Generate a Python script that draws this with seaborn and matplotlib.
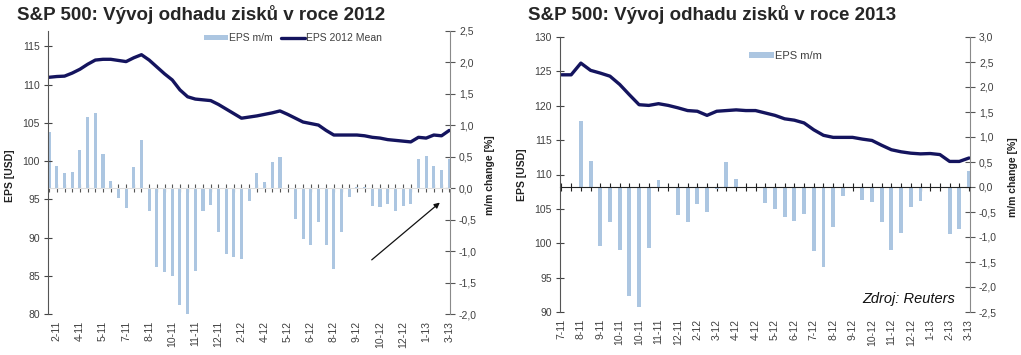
import matplotlib
matplotlib.use('Agg')
import matplotlib.pyplot as plt
from matplotlib.ticker import FuncFormatter
import numpy as np
import seaborn as sns

# ==========================================
# Data
# ==========================================
# 2012 panel: biweekly points, labels every third point
ticklabels_2012 = ['2-11', '4-11', '5-11', '7-11', '8-11', '10-11', '11-11', '12-11', '2-12',
                   '4-12', '5-12', '6-12', '8-12', '9-12', '10-12', '12-12', '1-13', '3-13']
eps_mm_2012 = [0.89, 0.35, 0.24, 0.26, 0.61, 1.13, 1.20, 0.55, 0.12, -0.16,
               -0.32, 0.33, 0.76, -0.36, -1.26, -1.33, -1.40, -1.85, -2.00, -1.31,
               -0.37, -0.27, -0.70, -1.04, -1.10, -1.13, -0.21, 0.25, 0.10, 0.41,
               0.50, 0.00, -0.49, -0.81, -0.91, -0.54, -0.91, -1.29, -0.69, -0.14,
               0.02, 0.02, -0.28, -0.30, -0.25, -0.36, -0.29, -0.25, 0.46, 0.52,
               0.36, 0.29, 0.46]
eps_mean_2012 = [110.95, 111.05, 111.1, 111.5, 112.0, 112.65, 113.2, 113.3, 113.3, 113.15,
                 113.0, 113.5, 113.9, 113.2, 112.3, 111.4, 110.6, 109.3, 108.4, 108.1,
                 108.0, 107.9, 107.4, 106.8, 106.2, 105.6, 105.75, 105.9, 106.1, 106.3,
                 106.55, 106.1, 105.6, 105.1, 104.9, 104.7, 104.0, 103.4, 103.4, 103.4,
                 103.4, 103.3, 103.1, 103.0, 102.8, 102.7, 102.6, 102.5, 103.1, 103.0,
                 103.4, 103.3, 104.0]

# 2013 panel: labels every second point
ticklabels_2013 = ['7-11', '8-11', '9-11', '10-11', '10-11', '11-11', '12-11', '2-12', '3-12',
                   '4-12', '4-12', '5-12', '6-12', '7-12', '8-12', '9-12', '10-12', '11-12',
                   '12-12', '1-13', '2-13', '3-13']
eps_mm_2013 = [0.00, 0.00, 1.33, 0.52, -1.18, -0.69, -1.26, -2.17, -2.40, -1.21,
               0.14, 0.00, -0.56, -0.69, -0.33, -0.49, -0.03, 0.50, 0.17, 0.00,
               0.00, -0.31, -0.43, -0.59, -0.68, -0.53, -1.28, -1.60, -0.79, -0.18,
               0.00, -0.25, -0.30, -0.70, -1.26, -0.91, -0.40, -0.27, 0.00, 0.00,
               -0.93, -0.83, 0.33]
eps_mean_2013 = [124.5, 124.5, 126.2, 125.15, 124.75, 124.3, 123.1, 121.6, 120.15, 120.05,
                 120.3, 120.05, 119.7, 119.3, 119.2, 118.6, 119.2, 119.3, 119.4, 119.3,
                 119.3, 118.95, 118.6, 118.1, 117.9, 117.5, 116.5, 115.7, 115.4, 115.4,
                 115.4, 115.15, 114.95, 114.25, 113.6, 113.3, 113.1, 113.0, 113.05, 112.9,
                 111.9, 111.9, 112.4]

BAR_COLOR = '#a3c6ea'
LINE_COLOR = '#14145e'
TEXT_COLOR = '#404040'

sns.set_style('white')
plt.rcParams['font.family'] = ['Liberation Sans', 'DejaVu Sans']


def comma_fmt(v, pos):
    if abs(v) < 1e-9:
        v = 0.0
    return f'{v:.1f}'.replace('.', ',')


def draw_panel(fig, rect, mm, mean, ticklabels, label_step, left_lim, left_ticks,
               right_lim, right_ticks, zero_color, zero_tick_color, line_label):
    idx = np.arange(len(mm))
    xlim = (-0.15, len(mm) - 1 + 0.1)

    # line axes (left scale, carries the date labels)
    ax_line = fig.add_axes(rect)
    # bar axes (right scale, x axis drawn through zero)
    ax_bar = fig.add_axes(rect)

    sns.barplot(x=idx, y=mm, native_scale=True, width=0.4, color=BAR_COLOR,
                errorbar=None, ax=ax_bar, label='EPS m/m', linewidth=0)
    sns.lineplot(x=idx, y=mean, color=LINE_COLOR, linewidth=2.4, ax=ax_line,
                 label=line_label)

    ax_line.set_zorder(2)
    ax_line.patch.set_visible(False)
    ax_bar.set_zorder(1)

    # --- bar axes
    ax_bar.set_xlim(xlim)
    ax_bar.set_ylim(right_lim)
    ax_bar.set_yticks(right_ticks)
    ax_bar.yaxis.set_major_formatter(FuncFormatter(comma_fmt))
    ax_bar.yaxis.tick_right()
    ax_bar.yaxis.set_label_position('right')
    ax_bar.set_ylabel('m/m change [%]', fontsize=7.5, fontweight='bold', color='#222222')
    ax_bar.set_xticks(idx)
    ax_bar.set_xticklabels([])
    ax_bar.set_xlabel('')
    ax_bar.spines['left'].set_visible(False)
    ax_bar.spines['top'].set_visible(False)
    ax_bar.spines['right'].set_color('#8a8a8a')
    ax_bar.spines['bottom'].set_position(('data', 0))
    ax_bar.spines['bottom'].set_color(zero_color)
    ax_bar.spines['bottom'].set_linewidth(0.8)
    ax_bar.tick_params(axis='x', bottom=True, direction='inout', length=6, width=0.8,
                       colors=zero_tick_color)
    ax_bar.tick_params(axis='y', left=False, right=True, direction='inout', length=7,
                       width=0.8, colors='#555555', labelcolor=TEXT_COLOR, labelsize=7.5,
                       pad=3)
    ax_bar.patch.set_visible(False)

    # --- line axes
    ax_line.set_xlim(xlim)
    ax_line.set_ylim(left_lim)
    ax_line.set_yticks(left_ticks)
    ax_line.set_ylabel('EPS [USD]', fontsize=7.5, fontweight='bold', color='#222222')
    ax_line.set_xlabel('')
    tick_pos = idx[label_step[0]::label_step[1]]
    ax_line.set_xticks(tick_pos)
    ax_line.set_xticklabels(ticklabels, rotation=90)
    ax_line.tick_params(axis='x', bottom=False, length=0, pad=5, labelsize=7.5,
                        labelcolor=TEXT_COLOR)
    ax_line.tick_params(axis='y', left=True, direction='inout', length=6, width=0.8,
                        colors='#444444', labelcolor=TEXT_COLOR, labelsize=7.5, pad=3)
    for s in ['top', 'right', 'bottom']:
        ax_line.spines[s].set_visible(False)
    ax_line.spines['left'].set_color('#555555')
    if ax_line.get_legend() is not None:
        ax_line.get_legend().remove()
    if ax_bar.get_legend() is not None:
        ax_bar.get_legend().remove()
    return ax_line, ax_bar


fig = plt.figure(figsize=(10.21, 3.55), dpi=100)

# ---------------- 2012 panel
axL1, axB1 = draw_panel(fig, [48 / 1021, 41 / 355, 402 / 1021, 283 / 355],
                        eps_mm_2012, eps_mean_2012, ticklabels_2012, (1, 3),
                        (80, 117), np.arange(80, 116, 5),
                        (-2.0, 2.5), np.arange(-2.0, 2.51, 0.5), '#dddddd', '#555555',
                        'EPS 2012 Mean')
axL1.yaxis.set_label_coords(-0.082, 0.49)
axB1.yaxis.set_label_coords(1.087, 0.49)
h1, l1 = axB1.get_legend_handles_labels()
h2, l2 = axL1.get_legend_handles_labels()
axL1.legend(h1 + h2, l1 + l2, loc='center', bbox_to_anchor=(0.61, 0.975), ncol=2,
            frameon=False, fontsize=7.5, labelcolor=TEXT_COLOR, handlelength=2.3,
            handleheight=0.45, handletextpad=0.1, columnspacing=0.8)
axL1.annotate('', xy=(0.98, 0.40), xytext=(0.80, 0.185), xycoords='axes fraction',
              arrowprops=dict(arrowstyle='-|>', color='#111111', lw=0.9,
                              mutation_scale=8))

# ---------------- 2013 panel
axL2, axB2 = draw_panel(fig, [560 / 1021, 43 / 355, 410 / 1021, 275 / 355],
                        eps_mm_2013, eps_mean_2013, ticklabels_2013, (0, 2),
                        (90, 130), np.arange(90, 131, 5),
                        (-2.5, 3.0), np.arange(-2.5, 3.01, 0.5), '#222222', '#222222',
                        None)
axL2.yaxis.set_label_coords(-0.08, 0.50)
axB2.yaxis.set_label_coords(1.093, 0.49)
h3, l3 = axB2.get_legend_handles_labels()
axL2.legend(h3, l3, loc='center', bbox_to_anchor=(0.55, 0.931), frameon=False,
            fontsize=8, labelcolor=TEXT_COLOR, handlelength=2.3, handleheight=0.45,
            handletextpad=0.1)
axL2.text(0.963, 0.047, 'Zdroj: Reuters', transform=axL2.transAxes, ha='right',
          va='center', fontsize=10.5, style='italic', color='#111111')

# ---------------- titles
fig.text(17 / 1021, 1 - 20 / 355, 'S&P 500: Vývoj odhadu zisků v roce 2012',
         fontsize=13.5, fontweight='bold', va='baseline')
fig.text(528 / 1021, 1 - 20 / 355, 'S&P 500: Vývoj odhadu zisků v roce 2013',
         fontsize=13.5, fontweight='bold', va='baseline')

fig.savefig('out.png', dpi=100, facecolor='white')
